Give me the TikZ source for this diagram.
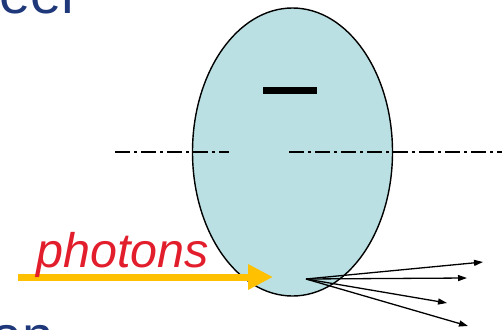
\documentclass[tikz,border=0pt]{standalone}
\usepackage{fontspec}
\setmainfont{Liberation Sans}
\usetikzlibrary{arrows.meta, positioning, shapes.geometric}

\definecolor{gotaazul}{RGB}{186,224,227}
\definecolor{tituloazul}{RGB}{31,56,122}
\definecolor{fotonrojo}{RGB}{226,30,45}
\definecolor{fotonamarillo}{RGB}{255,192,0}

\begin{document}
\begin{tikzpicture}[x=1pt, y=-1pt]
    \useasboundingbox (0,0) rectangle (502,329);
    \clip (0,0) rectangle (502,329);

    % Restos del texto de la diapositiva
    \node[anchor=base west, inner sep=0, text=tituloazul, font=\fontsize{56}{60}\selectfont] (titulo) at (-1,14) {eer};
    \node[anchor=base west, inner sep=0, text=tituloazul, font=\fontsize{56}{60}\selectfont] (pie) at (-9,355) {an};

    % Gota
    \node[ellipse, draw, line width=1.4pt, fill=gotaazul, minimum width=200pt, minimum height=288pt, inner sep=0] (gota) at (292.5,152) {};
    \fill (263,87) rectangle (317,94);

    % Eje
    \coordinate (ejeA) at (115,152);
    \coordinate (ejeB) at (229,152);
    \coordinate (ejeC) at (289,152);
    \coordinate (ejeD) at (502,152);
    \draw[line width=1.8pt, dash pattern=on 15pt off 4pt on 3pt off 4pt] (ejeA) -- (ejeB);
    \draw[line width=1.8pt, dash pattern=on 15pt off 4pt on 3pt off 4pt] (ejeC) -- (ejeD);

    % Fotones
    \coordinate (inicio) at (18,277);
    \coordinate (punta) at (273,277);
    \draw[fotonamarillo, line width=7pt, -{Triangle[length=25pt, width=24pt]}] (inicio) -- (punta);
    \node[anchor=base west, inner sep=0, text=fotonrojo, font=\fontsize{48.5}{52}\selectfont\itshape] (fotones) at (36,267.5) {photons};

    % Dispersion
    \coordinate (origen) at (306,279);
    \coordinate (s1) at (483,262);
    \coordinate (s2) at (467,278);
    \coordinate (s3) at (447,303);
    \coordinate (s4) at (468,326);
    \foreach \s in {s1, s2, s3, s4}
        \draw[line width=1.3pt, -{Triangle[length=9pt, width=6pt]}] (origen) -- (\s);
\end{tikzpicture}
\end{document}
